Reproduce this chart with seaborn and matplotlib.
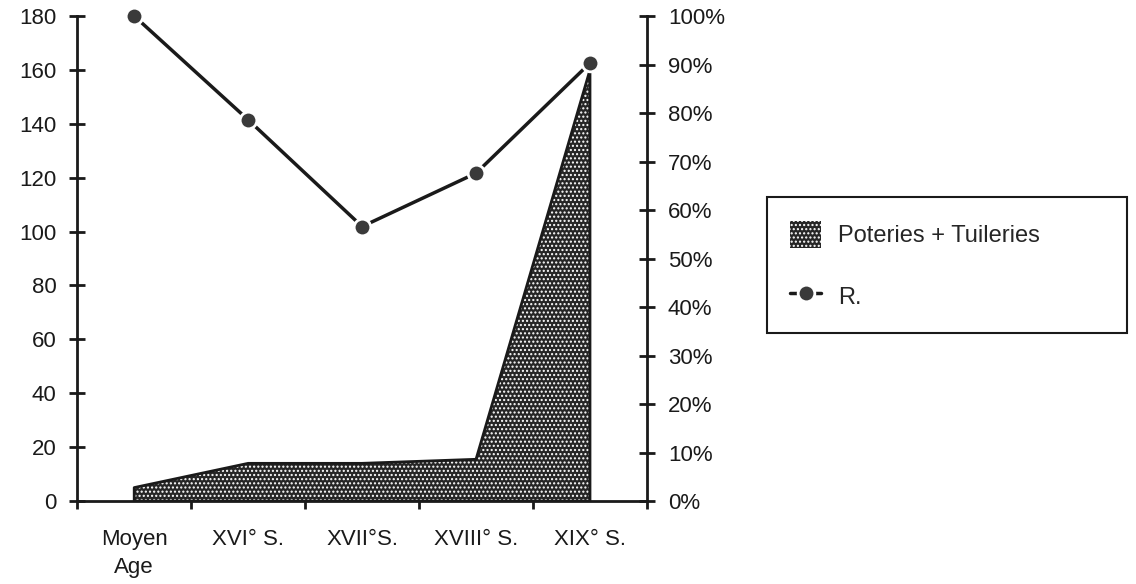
import matplotlib
matplotlib.use("Agg")
import matplotlib.pyplot as plt
from matplotlib.patches import Patch
from matplotlib.lines import Line2D
import numpy as np
import pandas as pd
import seaborn as sns

# DATA
periodes = ["Moyen\nAge", "XVI° S.", "XVII°S.", "XVIII° S.", "XIX° S."]
poteries_tuileries = [5, 14, 14, 15.5, 160]          # left axis (nombre)
ratio_r = [1.00, 0.786, 0.566, 0.676, 0.903]          # right axis (%)

left_ticks = list(range(0, 181, 20))
right_ticks = [i / 10 for i in range(0, 11)]

# STYLE
sns.set_style("ticks")
plt.rcParams["font.family"] = ["Liberation Sans", "DejaVu Sans"]
plt.rcParams["hatch.linewidth"] = 1.0
dark = "#1a1a1a"
motif = "...."

df = pd.DataFrame({"pos": np.arange(len(periodes)),
                   "poteries": poteries_tuileries,
                   "ratio": ratio_r})

fig = plt.figure(figsize=(11.36, 5.84), dpi=100)
ax = fig.add_axes([0.068, 0.142, 0.5015, 0.8306])

# area (dotted pattern)
ax.fill_between(df["pos"], 0, df["poteries"], facecolor="#262626",
                edgecolor="white", hatch=motif, linewidth=0, zorder=2)
ax.fill_between(df["pos"], 0, df["poteries"], facecolor="none",
                edgecolor=dark, linewidth=2, zorder=3)

ax.set_xlim(-0.5, len(periodes) - 0.5)
ax.set_ylim(0, 180)
ax.set_yticks(left_ticks)
ax.tick_params(axis="y", direction="inout", length=12, width=2,
               labelsize=16, pad=9, colors=dark)
ax.set_xticks(df["pos"], periodes)
ax.tick_params(axis="x", which="major", length=0, labelsize=16, pad=20,
               colors=dark)
for t in ax.get_xticklabels():
    t.set_linespacing(1.45)
ax.set_xticks(np.arange(-0.5, len(periodes)), minor=True)
ax.tick_params(axis="x", which="minor", direction="out", length=6, width=2,
               color=dark)
for s in ["top", "right"]:
    ax.spines[s].set_visible(False)
for s in ["left", "bottom"]:
    ax.spines[s].set_linewidth(2)
    ax.spines[s].set_color(dark)

# line on the right axis
ax2 = ax.twinx()
sns.lineplot(data=df, x="pos", y="ratio", ax=ax2, color=dark, linewidth=2.5,
             marker="o", markersize=12, markerfacecolor="#3a3a3a",
             markeredgecolor="white", markeredgewidth=2, zorder=5,
             clip_on=False)
ax2.set_ylim(0, 1)
ax2.set_yticks(right_ticks, [f"{int(round(v * 100))}%" for v in right_ticks])
ax2.tick_params(axis="y", direction="inout", length=12, width=2,
                labelsize=16, pad=9, colors=dark)
ax2.set_xlabel("")
ax2.set_ylabel("")
ax.set_xlabel("")
ax.set_ylabel("")
for s in ["top", "left", "bottom"]:
    ax2.spines[s].set_visible(False)
ax2.spines["right"].set_linewidth(2)
ax2.spines["right"].set_color(dark)
ax2.set_xlim(-0.5, len(periodes) - 0.5)

# legend
handles = [Patch(facecolor="#262626", edgecolor="white", hatch=motif,
                 linewidth=0),
           Line2D([], [], color=dark, linewidth=2.5, marker="o",
                  markersize=12, markerfacecolor="#3a3a3a",
                  markeredgecolor="white", markeredgewidth=2)]
leg = fig.legend(handles, ["Poteries + Tuileries", "R."],
                 loc="upper left", bbox_to_anchor=(0.675, 0.4627, 0.317, 0.2),
                 mode="expand", borderaxespad=0, fontsize=17,
                 frameon=True, fancybox=False, framealpha=1,
                 edgecolor=dark, labelspacing=1.45, borderpad=1.0,
                 handlelength=1.3, handleheight=1.4, handletextpad=0.7)
leg.get_frame().set_linewidth(1.5)

fig.savefig("out.png", dpi=100)
